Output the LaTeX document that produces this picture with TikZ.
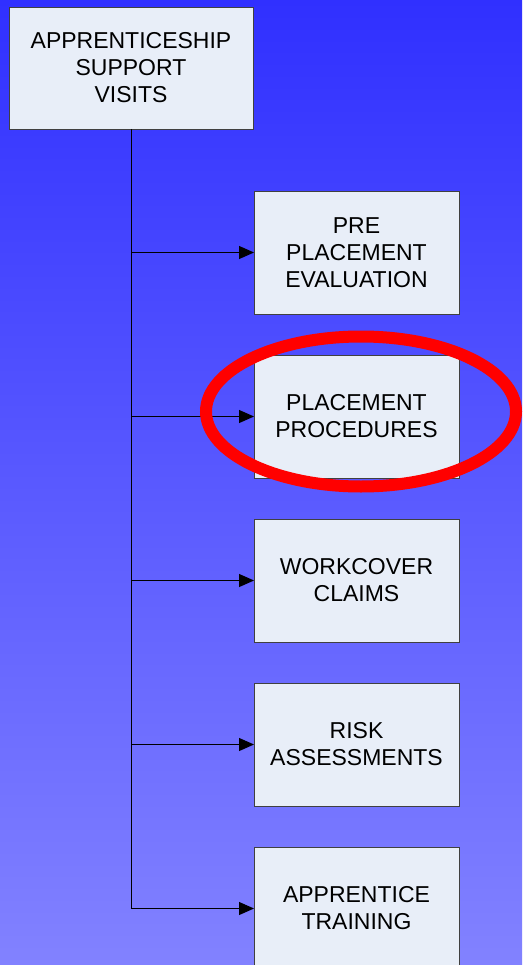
\documentclass[tikz,border=0pt]{standalone}
\usepackage{fontspec}
\setmainfont{Liberation Sans}
\usetikzlibrary{arrows.meta,positioning}
\definecolor{bgtop}{RGB}{48,48,255}
\definecolor{bgbot}{RGB}{130,130,255}
\definecolor{boxfill}{RGB}{232,238,248}
\tikzset{
  stage/.style={
    draw=black!75,
    fill=boxfill,
    minimum width=205pt,
    minimum height=123pt,
    inner sep=0pt,
    outer sep=0pt,
    align=center,
    font=\fontsize{23}{27}\selectfont,
  },
  feed/.style={-{Triangle[length=15pt,width=13pt]},line width=1pt},
  highlight/.style={draw=red,line width=12pt},
}
\begin{document}
\begin{tikzpicture}[x=1pt,y=1pt]
  \clip (0,0) rectangle (522,-965);
  \shade[top color=bgtop,bottom color=bgbot] (0,0) rectangle (522,-965);

  \node[stage,minimum width=244pt,minimum height=122pt] (asv) at (131,-68)
    {APPRENTICESHIP\\SUPPORT\\VISITS};
  \node[stage] (ppe) at (356.5,-252.5) {PRE\\PLACEMENT\\EVALUATION};
  \node[stage,below=41pt of ppe] (pp) {PLACEMENT\\PROCEDURES};
  \node[stage,below=41pt of pp] (wc) {WORKCOVER\\CLAIMS};
  \node[stage,below=41pt of wc] (ra) {RISK\\ASSESSMENTS};
  \node[stage,below=41pt of ra] (at) {APPRENTICE\\TRAINING};

  \draw[line width=1pt] (asv.south) -- (asv.south |- at.west);
  \foreach \n in {ppe,pp,wc,ra,at}
    \draw[feed] (asv.south |- \n.west) -- (\n.west);

  \draw[highlight] ([shift={(4.5,5)}]pp.center) ellipse [x radius=155, y radius=75];
\end{tikzpicture}
\end{document}
